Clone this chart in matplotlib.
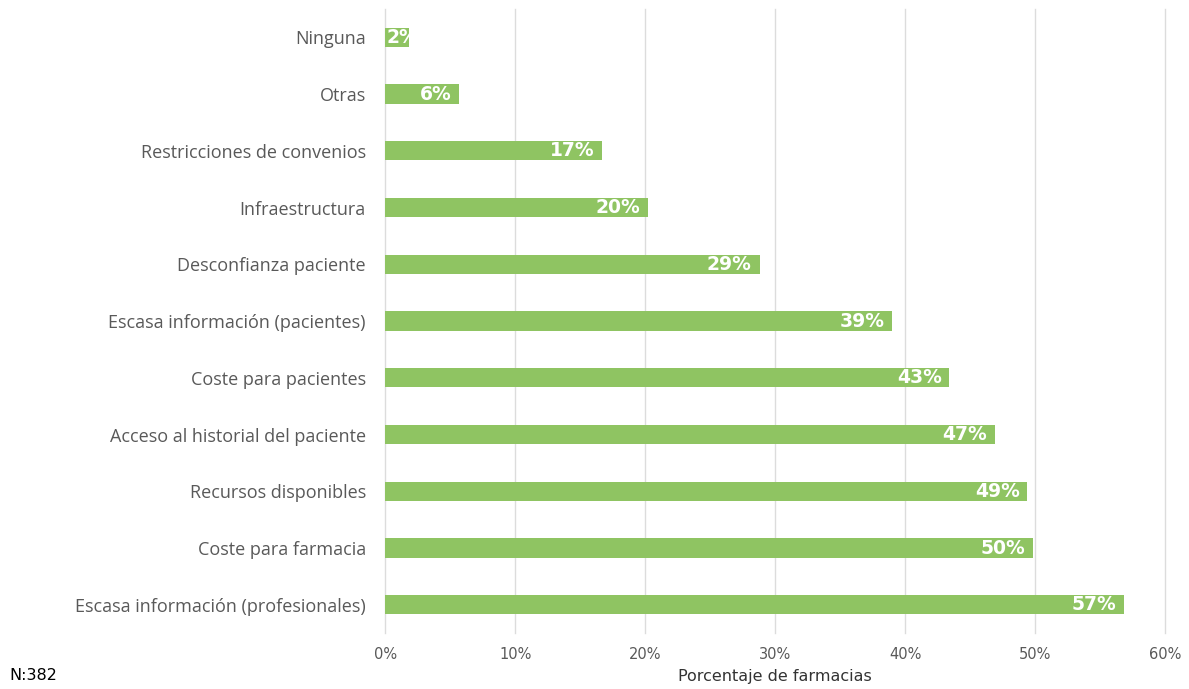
import matplotlib.pyplot as plt
import numpy as np

# categories from top to bottom as in the picture
categorias = ['Ninguna', 'Otras', 'Restricciones de convenios', 'Infraestructura',
              'Desconfianza paciente', 'Escasa información (pacientes)',
              'Coste para pacientes', 'Acceso al historial del paciente',
              'Recursos disponibles', 'Coste para farmacia',
              'Escasa información (profesionales)']
valores = [1.8, 5.7, 16.7, 20.2, 28.8, 39.0, 43.4, 46.9, 49.4, 49.8, 56.8]
xticks = [0, 10, 20, 30, 40, 50, 60]

verde = '#8fc462'
gris = '#595959'

fig = plt.figure(figsize=(11.89, 6.89), dpi=100)
ax = fig.add_axes([0.324, 0.081, 0.656, 0.906])

y = np.arange(len(categorias))
ax.barh(y, valores, height=0.34, color=verde, zorder=2)

for yi, v in zip(y, valores):
    txt = f'{round(v):.0f}%'
    if v > 4:
        ax.text(v - 0.6, yi, txt, ha='right', va='center', color='white',
                fontsize=13.5, fontweight='bold', family='DejaVu Sans', zorder=3)
    else:
        ax.text(0.1, yi, txt, ha='left', va='center', color='white',
                fontsize=13.5, fontweight='bold', family='DejaVu Sans', zorder=3)

ax.set_ylim(len(categorias) - 0.5, -0.5)
ax.set_yticks(y)
ax.set_yticklabels(categorias, fontsize=13, color=gris, family='Open Sans')
ax.set_xlim(0, 60)
ax.set_xticks(xticks)
ax.set_xticklabels([f'{t}%' for t in xticks], fontsize=10.5, color=gris)
ax.tick_params(length=0)
ax.tick_params(axis='y', pad=14)
ax.tick_params(axis='x', pad=10)
for t in xticks:
    ax.axvline(t, color='#dcdcdc', linewidth=1.0, zorder=0, clip_on=False)
for s in ax.spines.values():
    s.set_visible(False)

ax.set_xlabel('Porcentaje de farmacias', fontsize=11.5, color='#333333', labelpad=5)
fig.text(0.008, 0.013, 'N:382', fontsize=11.5, color='black')

fig.savefig('out.png', dpi=100)
